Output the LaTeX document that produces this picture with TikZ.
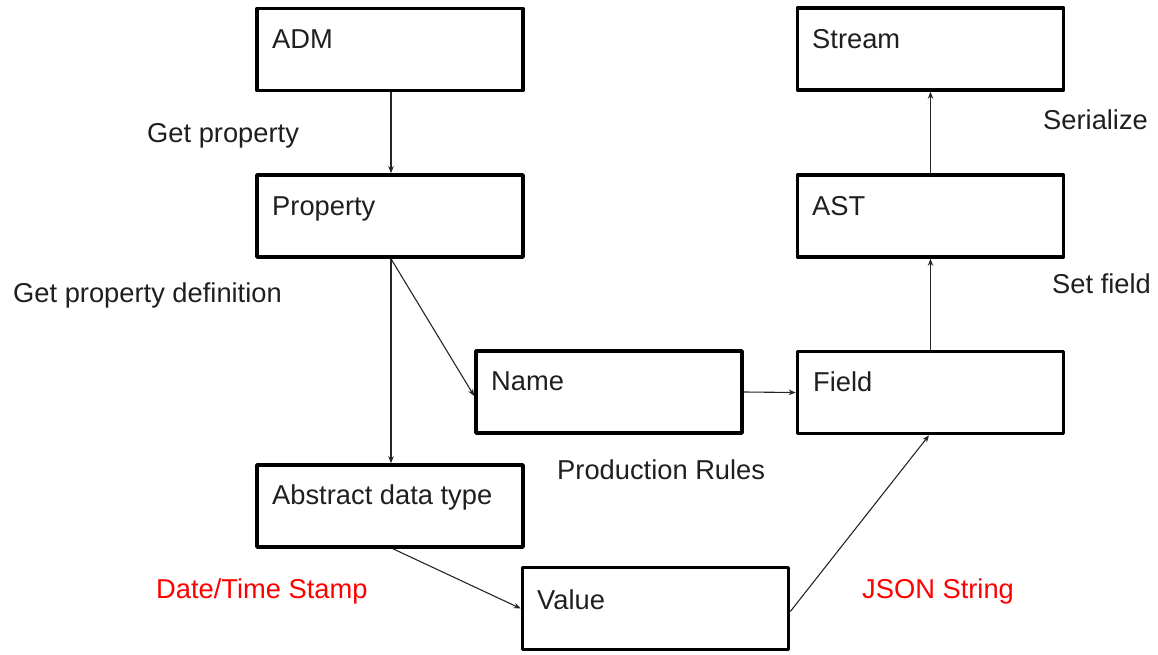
\documentclass[tikz,border=0pt]{standalone}
\usepackage{fontspec}
\setmainfont{Liberation Sans}
\usetikzlibrary{arrows.meta}
\begin{document}
\begin{tikzpicture}[x=1pt,y=-1pt,
  box/.style={draw=black, line width=3.6pt, minimum width=266pt, minimum height=82pt, inner sep=0pt, line join=round},
  txt/.style={anchor=base west, inner sep=0pt, font=\fontsize{27.3}{32}\selectfont, text=black!88},
  redtxt/.style={txt, text=red},
  conn/.style={draw=black!85, line width=1.1pt, -{Stealth[length=7pt,width=5.5pt]}}]
\useasboundingbox (0,0) rectangle (1158,655);
% boxes
\node[box] (adm) at (390,49.5) {};
\node[box] (prop) at (390,216) {};
\node[box] (adt) at (390,506) {};
\node[box] (val) at (655.5,608.5) {};
\node[box] (name) at (609,392) {};
\node[box] (field) at (930.5,392.5) {};
\node[box] (ast) at (930.5,216) {};
\node[box] (stream) at (930.5,49) {};
% box texts
\node[txt] (admt) at (272,49) {ADM};
\node[txt] (propt) at (272,215) {Property};
\node[txt] (adtt) at (272,504) {Abstract data type};
\node[txt] (valt) at (537,609) {Value};
\node[txt] (namet) at (491,390) {Name};
\node[txt] (fieldt) at (813,391) {Field};
\node[txt] (astt) at (812,215) {AST};
\node[txt] (streamt) at (812,49) {Stream};
% labels
\node[txt] (l1) at (147,143) {Get property};
\node[txt] (l2) at (13,302) {Get property definition};
\node[txt] (l3) at (557,479) {Production Rules};
\node[redtxt] (l4) at (156,598) {Date/Time Stamp};
\node[redtxt] (l5) at (862,598) {JSON String};
\node[txt] (l6) at (1043,130) {Serialize};
\node[txt] (l7) at (1052,293) {Set field};
% connectors
\coordinate (ps) at ([xshift=1pt]prop.south);
\draw[conn] ([xshift=1pt]adm.south) -- ([xshift=1pt]prop.north);
\draw[conn] (ps) -- ([yshift=-4pt]name.west);
\draw[conn] (ps) -- ([xshift=1pt]adt.north);
\draw[conn] (name.east) -- (field.west);
\draw[conn] ([xshift=3pt]adt.south) -- (val.west);
\draw[conn] ([yshift=-3pt]val.east) -- ([xshift=-1.5pt]field.south);
\draw[conn] (field.north) -- (ast.south);
\draw[conn] (ast.north) -- (stream.south);
\end{tikzpicture}
\end{document}
